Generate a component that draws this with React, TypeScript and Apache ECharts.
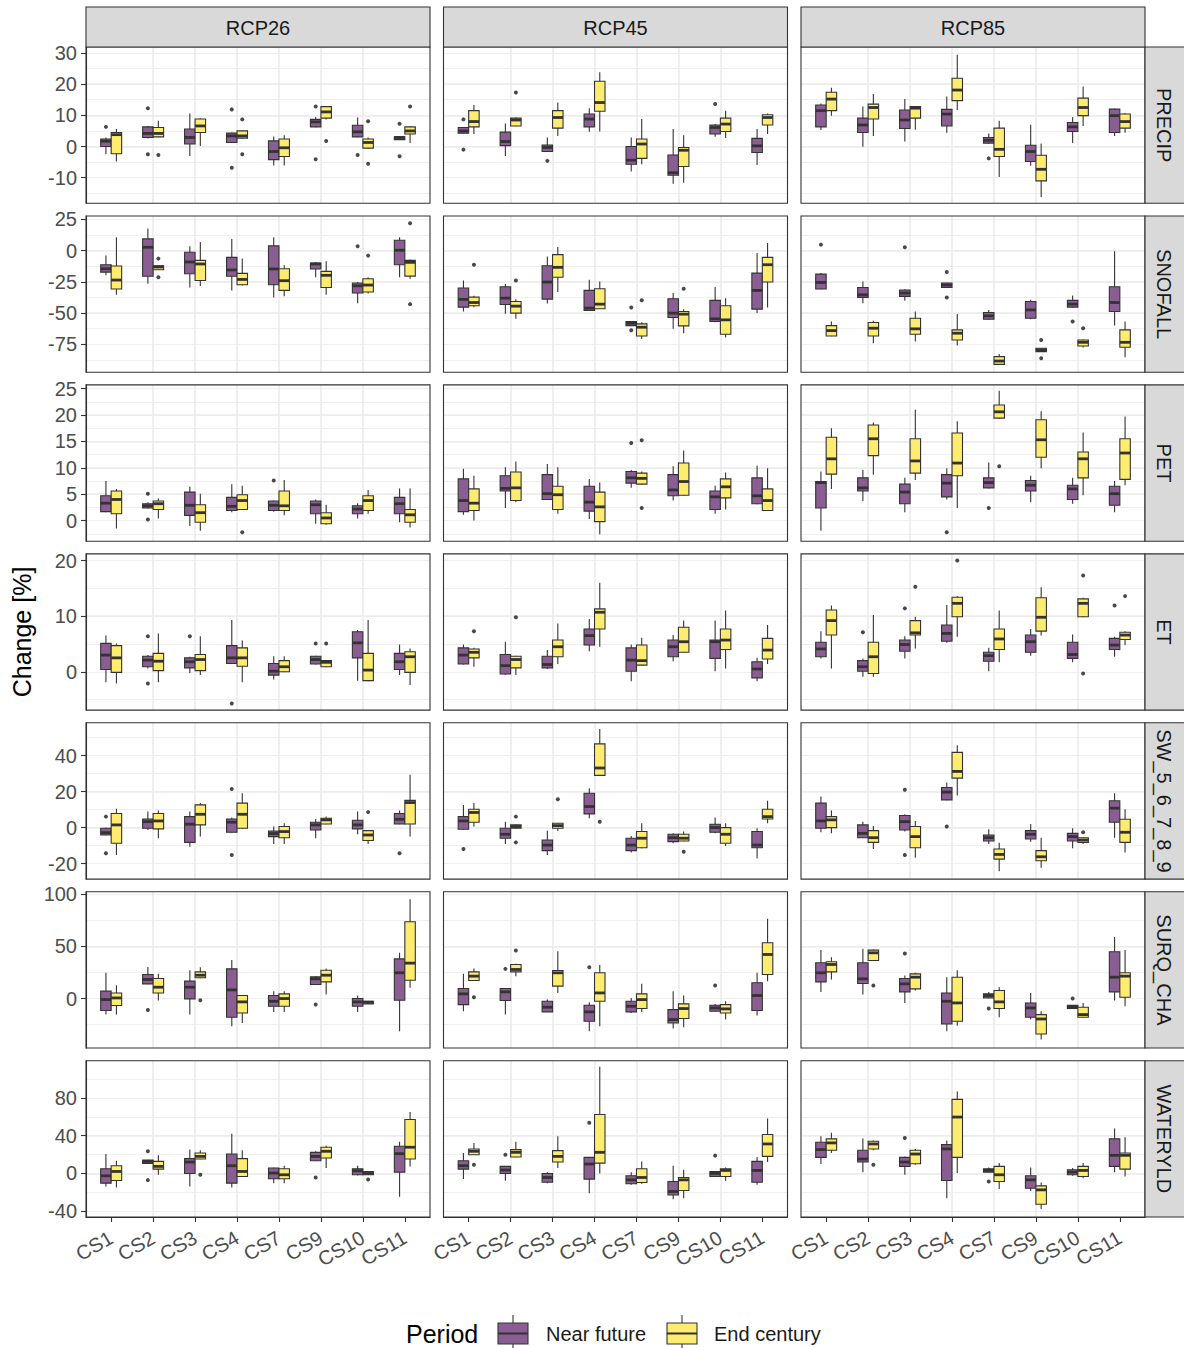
import React, { useEffect, useRef } from "react";
import * as echarts from "echarts";

// ---------- categories ----------
const scenarios = ["RCP26", "RCP45", "RCP85"];
const variables = ["PRECIP", "SNOFALL", "PET", "ET", "SW_5_6_7_8_9", "SURQ_CHA", "WATERYLD"];
const sites = ["CS1", "CS2", "CS3", "CS4", "CS7", "CS9", "CS10", "CS11"];
const periods = ["Near future", "End century"];
const periodColors = ["#8B5E93", "#FDEC6F"];

// ---------- y scales per variable row ----------
const yMin = [-18.2, -97.5, -3.9, -6.9, -28.6, -47.5, -46.2];
const yMax = [31.9, 27.8, 25.7, 21.2, 58.2, 102.5, 119.6];
const majorStep = [10, 25, 5, 10, 20, 50, 40];
const majorBreaks = [
  [-10, 0, 10, 20, 30],
  [-75, -50, -25, 0, 25],
  [0, 5, 10, 15, 20, 25],
  [0, 10, 20],
  [-20, 0, 20, 40],
  [0, 50, 100],
  [-40, 0, 40, 80],
];

// ---------- box statistics: [lower whisker, Q1, median, Q3, upper whisker] per site ----------
// PRECIP
const PRECIP_RCP26_NF = [[-2.5, 0, 1.7, 2.4, 2.9], [2.6, 2.9, 4.2, 6.3, 6.6], [-3.0, 0.8, 2.9, 5.6, 10.6], [1.2, 1.3, 3.4, 4.3, 4.5], [-6.1, -4.2, -1.6, 1.8, 3.2], [6.2, 6.3, 7.9, 8.7, 9.5], [3.0, 3.1, 4.7, 6.8, 9.3], [2.1, 2.2, 2.9, 3.1, 3.2]];
const PRECIP_RCP26_EC = [[-4.8, -2.3, 3.8, 4.5, 5.6], [3.0, 3.1, 4.2, 6.1, 8.3], [0.2, 4.5, 6.6, 8.8, 9.1], [2.6, 2.7, 3.4, 5.0, 5.1], [-6.1, -3.2, -0.4, 2.4, 3.6], [8.7, 9.1, 11.1, 12.8, 13.0], [-0.6, -0.5, 1.3, 2.4, 2.9], [1.1, 4.0, 5.0, 6.3, 6.4]];
const PRECIP_RCP45_NF = [[4.2, 4.3, 5.0, 6.1, 6.2], [-3.0, 0.3, 1.6, 4.6, 7.4], [-1.7, -1.6, -0.3, 0.5, 2.9], [4.7, 6.3, 8.8, 10.4, 12.3], [-8.0, -5.7, -4.4, 0.0, 2.9], [-11.9, -9.2, -8.4, -2.7, 5.6], [3.1, 4.0, 6.1, 6.9, 7.2], [-5.9, -1.9, 0.2, 2.6, 5.6]];
const PRECIP_RCP45_EC = [[4.0, 6.3, 8.0, 11.5, 13.3], [6.5, 6.6, 8.5, 9.1, 9.3], [3.4, 5.9, 9.3, 11.5, 14.1], [4.8, 11.3, 14.1, 20.9, 23.8], [-5.7, -3.8, 0.8, 2.4, 8.8], [-11.6, -6.4, -1.2, -0.3, 3.6], [2.7, 4.8, 7.2, 9.1, 11.5], [4.0, 6.9, 9.3, 10.2, 10.6]];
const PRECIP_RCP85_NF = [[5.3, 6.3, 11.5, 13.3, 13.8], [-0.1, 4.5, 6.9, 9.1, 12.8], [1.6, 5.8, 8.5, 11.7, 15.2], [4.4, 6.6, 10.4, 11.9, 16.0], [1.0, 1.1, 2.0, 2.9, 4.2], [-6.2, -4.8, -1.6, 0.4, 7.0], [1.1, 4.8, 6.3, 7.7, 9.5], [3.4, 4.5, 9.9, 12.0, 12.2]];
const PRECIP_RCP85_EC = [[9.9, 11.5, 15.2, 17.4, 18.8], [3.4, 8.8, 12.5, 13.6, 16.8], [5.4, 9.1, 12.3, 12.8, 12.9], [11.7, 14.7, 18.1, 21.9, 29.4], [-9.8, -3.2, -0.9, 5.9, 8.3], [-16.2, -11.0, -7.3, -2.8, 1.0], [6.6, 9.9, 12.5, 15.5, 19.2], [4.4, 5.9, 8.0, 10.4, 10.7]];
// SNOFALL
const SNOFALL_RCP26_NF = [[-19.8, -17.2, -14.5, -11.3, -4.0], [-26.5, -20.6, 2.7, 9.4, 17.7], [-29.5, -18.5, -9.1, -1.3, 3.5], [-31.9, -20.6, -15.5, -5.4, 9.4], [-37.5, -27.3, -14.7, 3.8, 10.7], [-21.4, -14.7, -10.7, -9.9, -9.1], [-42.1, -34.0, -28.2, -26.0, -25.2], [-21.4, -11.3, 0.3, 8.3, 10.7]];
const SNOFALL_RCP26_EC = [[-35.4, -30.8, -23.6, -12.3, 10.7], [-15.6, -15.3, -13.1, -12.1, -11.8], [-28.4, -23.9, -10.7, -7.8, 7.0], [-27.9, -27.3, -23.1, -18.2, -6.4], [-36.5, -31.9, -24.1, -14.5, -11.8], [-35.4, -29.5, -19.8, -16.6, -8.6], [-34.3, -33.2, -27.6, -22.5, -21.4], [-22.5, -20.4, -9.4, -7.8, -7.2]];
const SNOFALL_RCP45_NF = [[-48.8, -45.3, -39.1, -30.0, -23.9], [-50.7, -43.2, -38.1, -29.0, -26.8], [-42.4, -38.9, -25.2, -12.1, -4.8], [-48.2, -48.0, -46.1, -31.9, -23.3], [-60.5, -60.1, -58.2, -56.8, -56.5], [-62.7, -53.6, -50.1, -38.6, -34.0], [-57.4, -56.8, -54.7, -39.9, -29.2], [-50.1, -46.9, -31.9, -18.0, -1.9]];
const SNOFALL_RCP45_EC = [[-45.3, -44.2, -41.6, -37.3, -36.2], [-54.7, -50.1, -44.5, -40.8, -39.0], [-33.2, -21.4, -13.4, -3.2, 2.9], [-46.8, -46.6, -42.9, -30.6, -24.7], [-70.8, -68.4, -61.4, -58.7, -57.5], [-66.2, -60.3, -50.9, -48.8, -46.9], [-69.7, -67.0, -55.5, -44.2, -38.1], [-45.6, -25.2, -11.3, -5.4, 6.2]];
const SNOFALL_RCP85_NF = [[-31.0, -30.8, -25.5, -18.8, -18.0], [-42.1, -37.5, -35.4, -29.5, -24.7], [-40.2, -36.7, -34.0, -31.6, -31.0], [-29.8, -29.5, -27.6, -26.0, -25.7], [-55.2, -55.0, -52.3, -49.6, -47.5], [-55.0, -54.2, -47.5, -40.8, -39.4], [-45.5, -45.3, -42.9, -39.9, -35.9], [-60.1, -48.8, -41.6, -29.0, -0.5]];
const SNOFALL_RCP85_EC = [[-68.6, -68.4, -64.1, -60.1, -56.8], [-74.3, -68.4, -62.2, -57.6, -56.3], [-72.9, -67.0, -62.7, -54.2, -48.8], [-76.1, -71.6, -66.2, -63.5, -50.9], [-91.4, -91.2, -88.5, -85.0, -82.8], [-81.2, -81.0, -79.6, -78.3, -78.0], [-77.7, -76.4, -73.5, -71.6, -71.3], [-85.5, -77.5, -73.5, -63.5, -56.8]];
// PET
const PET_RCP26_NF = [[1.6, 1.7, 3.3, 4.7, 7.5], [2.3, 2.4, 2.8, 3.2, 3.5], [-1.0, 1.0, 2.9, 5.4, 6.4], [1.6, 1.9, 2.7, 4.4, 6.9], [1.7, 1.9, 2.9, 3.7, 3.8], [-0.6, 1.3, 3.0, 3.7, 4.0], [0.4, 1.3, 2.2, 2.8, 3.3], [-0.3, 1.3, 3.2, 4.4, 6.1]];
const PET_RCP26_EC = [[-1.5, 1.3, 4.0, 5.6, 6.0], [0.4, 2.1, 3.2, 3.7, 4.2], [-1.9, -0.3, 1.5, 3.0, 5.1], [2.0, 2.1, 3.8, 4.9, 6.6], [1.0, 1.9, 2.8, 5.6, 7.7], [-0.8, -0.6, 0.5, 1.5, 3.0], [1.3, 1.9, 3.8, 4.7, 5.8], [-1.3, -0.3, 1.1, 2.1, 6.1]];
const PET_RCP45_NF = [[1.1, 1.7, 3.8, 7.9, 9.8], [2.4, 5.6, 6.1, 8.5, 10.1], [3.9, 4.0, 5.1, 8.7, 10.7], [0.3, 1.8, 3.5, 6.5, 7.9], [6.2, 7.1, 8.1, 9.3, 9.6], [3.8, 4.7, 5.8, 8.7, 10.3], [1.3, 2.1, 4.5, 5.6, 6.6], [3.1, 3.2, 4.7, 8.1, 10.4]];
const PET_RCP45_EC = [[0.0, 1.9, 3.3, 6.0, 8.5], [3.5, 3.8, 6.2, 9.2, 11.2], [1.3, 2.1, 4.9, 6.5, 10.1], [-2.6, -0.2, 2.6, 5.4, 7.2], [6.8, 6.9, 8.0, 9.0, 9.3], [4.7, 4.8, 7.4, 10.9, 13.3], [2.1, 4.3, 6.4, 7.9, 9.1], [1.8, 1.9, 3.8, 6.0, 9.9]];
const PET_RCP85_NF = [[-1.9, 2.4, 7.2, 7.4, 9.3], [3.7, 5.6, 6.2, 8.1, 9.6], [1.6, 3.2, 5.4, 6.9, 8.1], [4.0, 4.5, 7.1, 8.7, 9.9], [6.1, 6.2, 7.2, 8.1, 11.0], [3.5, 5.6, 6.7, 7.6, 8.5], [3.2, 4.0, 6.0, 6.7, 8.1], [1.6, 2.9, 5.1, 6.5, 7.5]];
const PET_RCP85_EC = [[6.0, 8.8, 11.7, 15.8, 17.5], [8.7, 12.3, 15.5, 18.1, 18.6], [7.7, 9.0, 11.3, 15.5, 21.0], [2.4, 8.5, 10.9, 16.6, 18.8], [19.3, 19.4, 20.6, 21.9, 24.6], [9.9, 12.0, 15.3, 19.1, 20.7], [4.8, 8.1, 11.7, 13.0, 16.7], [6.7, 7.8, 12.8, 15.5, 19.7]];
// ET
const ET_RCP26_NF = [[-1.9, 0.4, 3.0, 5.1, 6.5], [0.6, 0.9, 2.1, 2.8, 3.0], [-0.2, 0.7, 1.8, 2.5, 2.7], [1.4, 1.5, 2.5, 4.7, 9.3], [-1.4, -0.6, 0.1, 1.5, 2.8], [1.3, 1.4, 2.2, 2.8, 2.9], [-1.6, 2.5, 5.2, 7.2, 7.5], [-0.6, 0.4, 1.8, 3.3, 4.9]];
const ET_RCP26_EC = [[-2.1, -0.1, 2.5, 4.7, 5.1], [-1.9, 0.2, 1.9, 3.3, 6.9], [-0.6, 0.2, 2.2, 3.1, 6.4], [-1.9, 1.0, 2.5, 4.3, 5.6], [-0.1, 0.0, 0.9, 2.0, 2.8], [0.8, 0.9, 1.7, 2.0, 2.1], [-1.7, -1.6, 0.3, 3.3, 9.3], [-2.4, -0.1, 2.7, 3.6, 4.2]];
const ET_RCP45_NF = [[1.3, 1.4, 3.0, 4.3, 4.9], [-0.6, -0.4, 1.1, 3.1, 5.4], [0.5, 0.7, 1.3, 2.8, 3.9], [3.7, 4.8, 6.5, 7.7, 9.5], [-1.7, 0.1, 2.1, 4.3, 4.9], [1.9, 2.7, 4.5, 5.7, 6.6], [0.1, 2.4, 5.4, 5.7, 9.2], [-1.7, -1.1, 0.5, 1.8, 2.5]];
const ET_RCP45_EC = [[0.9, 2.5, 3.5, 4.1, 4.3], [-0.6, 0.7, 2.2, 2.8, 2.9], [1.4, 2.7, 4.5, 5.7, 8.7], [4.5, 7.7, 10.7, 11.3, 16.0], [1.1, 1.2, 2.0, 4.8, 6.1], [3.4, 3.5, 5.4, 8.0, 9.2], [0.6, 4.0, 5.7, 7.7, 11.0], [1.4, 2.3, 3.9, 6.0, 8.4]];
const ET_RCP85_NF = [[2.4, 2.7, 4.1, 5.3, 7.3], [-0.9, 0.1, 0.9, 2.0, 2.4], [2.4, 3.7, 4.9, 5.7, 6.4], [5.2, 5.5, 6.9, 8.4, 12.0], [0.1, 1.9, 2.9, 3.5, 4.3], [2.9, 3.5, 5.4, 6.6, 7.7], [1.7, 2.4, 3.1, 5.3, 6.7], [2.7, 4.0, 4.8, 6.0, 6.3]];
const ET_RCP85_EC = [[0.6, 6.6, 9.2, 11.1, 11.9], [-0.9, -0.3, 2.7, 5.3, 10.2], [4.2, 6.6, 7.0, 9.2, 9.9], [6.3, 9.9, 12.3, 13.4, 13.6], [1.7, 4.0, 5.9, 7.7, 11.0], [6.5, 7.3, 9.8, 13.3, 15.2], [9.8, 9.9, 12.3, 13.1, 13.3], [4.8, 5.8, 6.6, 7.1, 7.3]];
// SW_5_6_7_8_9
const SW_RCP26_NF = [[-4.3, -4.1, -2.8, -0.4, 0.0], [-1.3, -0.4, 3.3, 4.8, 8.9], [-10.6, -8.2, 1.9, 6.1, 8.9], [-2.8, -2.6, 3.0, 4.8, 5.6], [-9.1, -5.0, -3.3, -1.9, 0.6], [-5.9, -1.3, 1.5, 3.0, 4.8], [-3.7, -0.7, 1.5, 4.1, 8.9], [1.8, 2.0, 4.6, 7.8, 9.5]];
const SW_RCP26_EC = [[-15.2, -8.7, 1.5, 7.8, 10.4], [-5.9, -0.7, 3.7, 7.8, 9.5], [-5.0, 1.5, 7.4, 12.6, 13.6], [-0.6, -0.4, 7.4, 13.6, 19.1], [-9.1, -5.6, -2.2, 0.6, 2.4], [1.8, 2.0, 4.3, 5.2, 6.1], [-9.1, -7.2, -4.1, -1.7, -1.5], [-5.0, 2.0, 13.9, 15.1, 29.4]];
const SW_RCP45_NF = [[-1.1, -0.9, 3.7, 6.1, 12.6], [-9.1, -5.9, -3.7, -0.4, 3.3], [-15.2, -12.8, -9.7, -6.9, -1.7], [5.2, 7.6, 11.7, 19.1, 21.9], [-13.8, -12.8, -9.7, -5.9, -4.6], [-8.7, -7.8, -5.6, -3.7, -3.2], [-3.2, -2.6, 0.0, 1.9, 5.6], [-17.1, -11.2, -9.7, -2.2, -0.4]];
const SW_RCP45_EC = [[0.6, 3.0, 8.4, 10.2, 13.6], [-0.6, -0.4, 0.6, 1.5, 1.7], [-1.9, -0.4, 1.1, 2.4, 2.6], [28.8, 29.0, 33.1, 46.5, 54.8], [-11.5, -11.2, -5.9, -2.2, 2.4], [-7.6, -7.4, -5.9, -3.7, -2.2], [-10.2, -8.7, -3.7, 0.0, 2.4], [2.4, 4.8, 6.1, 10.2, 14.9]];
const SW_RCP85_NF = [[-2.6, -0.4, 3.7, 13.6, 17.3], [-5.8, -5.6, -3.2, 1.5, 3.3], [-2.2, -1.3, 3.3, 6.7, 7.4], [15.2, 15.4, 19.7, 22.3, 25.1], [-9.1, -7.4, -5.6, -4.1, -0.9], [-7.8, -6.3, -3.7, -1.7, 2.0], [-11.5, -7.4, -5.0, -3.2, -0.4], [-5.6, 3.0, 10.8, 14.9, 19.1]];
const SW_RCP85_EC = [[-3.2, 0.0, 4.3, 6.1, 9.5], [-11.9, -8.2, -5.6, -1.7, 0.9], [-16.7, -11.2, -5.0, 0.6, 3.7], [17.8, 27.5, 31.2, 41.8, 45.7], [-24.2, -17.5, -14.9, -11.9, -8.4], [-22.3, -18.4, -16.2, -12.8, -5.6], [-9.1, -8.2, -6.9, -5.6, -5.4], [-13.8, -8.2, -2.6, 4.6, 10.2]];
// SURQ_CHA
const SURQ_RCP26_NF = [[-15.4, -11.5, -1.0, 7.1, 24.7], [13.8, 14.1, 18.3, 23.1, 30.4], [-15.4, -0.3, 10.9, 16.7, 27.2], [-26.6, -17.9, 8.3, 28.5, 36.9], [-12.8, -7.4, -2.6, 2.9, 7.1], [13.3, 13.5, 18.9, 20.8, 21.5], [-12.8, -7.4, -3.2, 0.0, 2.9], [-31.4, -1.6, 24.7, 38.1, 43.9]];
const SURQ_RCP26_EC = [[-15.4, -6.7, 0.6, 5.4, 12.8], [-1.9, 5.4, 10.9, 19.2, 23.7], [19.6, 19.9, 22.4, 25.6, 30.1], [-23.4, -13.8, -3.2, 2.9, 3.1], [-12.8, -7.4, 0.0, 4.5, 7.1], [3.8, 16.0, 22.4, 27.2, 28.8], [-5.3, -5.1, -3.5, -2.6, -2.4], [10.3, 17.6, 34.0, 73.7, 95.2]];
const SURQ_RCP45_NF = [[-12.2, -5.8, 4.5, 9.6, 23.7], [-15.4, -1.9, 6.4, 9.6, 9.9], [-13.0, -12.8, -8.3, -2.6, -1.0], [-31.4, -21.8, -12.8, -6.4, -3.5], [-13.8, -12.8, -7.4, -2.6, 0.6], [-28.8, -23.4, -20.2, -10.6, 7.1], [-12.4, -12.2, -9.0, -6.4, -5.2], [-16.3, -11.5, 2.9, 15.1, 24.7]];
const SURQ_RCP45_EC = [[17.0, 17.3, 21.5, 25.6, 28.8], [21.5, 25.6, 27.9, 32.7, 33.3], [5.4, 11.9, 24.7, 26.9, 45.5], [-26.6, -2.6, 5.4, 24.7, 32.1], [-12.8, -9.6, -1.0, 4.5, 14.1], [-27.6, -19.2, -9.6, -5.1, 2.9], [-20.2, -13.8, -9.9, -5.8, -2.6], [16.7, 23.1, 42.3, 53.5, 76.6]];
const SURQ_RCP85_NF = [[6.4, 16.0, 24.7, 34.3, 46.5], [3.8, 14.4, 18.9, 34.3, 47.8], [-4.2, 6.4, 14.1, 19.2, 22.1], [-31.4, -24.4, -2.6, 5.4, 20.5], [0.4, 0.6, 2.9, 4.5, 6.4], [-20.2, -17.9, -9.0, -4.2, 5.4], [-9.8, -9.6, -7.7, -6.4, -6.2], [-1.9, 6.4, 20.5, 44.9, 59.0]];
const SURQ_RCP85_EC = [[18.3, 25.6, 32.7, 35.3, 39.7], [36.3, 36.5, 43.9, 46.5, 47.1], [7.7, 9.3, 20.5, 23.7, 24.7], [-26.0, -21.8, -4.2, 20.5, 27.2], [-17.9, -9.6, -3.2, 7.7, 10.9], [-39.4, -34.0, -19.6, -15.4, -12.2], [-18.1, -17.9, -15.4, -8.3, -4.2], [-7.4, 1.3, 21.5, 24.7, 46.5]];
// WATERYLD
const WYLD_RCP26_NF = [[-13.9, -10.3, -2.5, 5.0, 20.6], [10.5, 10.7, 12.8, 14.2, 14.4], [-13.9, 0.0, 12.1, 15.7, 25.3], [-14.9, -10.3, 8.2, 20.6, 42.0], [-10.3, -5.7, 0.4, 5.7, 6.4], [13.3, 13.5, 18.1, 22.4, 23.5], [-2.1, -1.4, 2.8, 5.0, 8.2], [-24.6, 1.4, 21.0, 28.8, 33.5]];
const WYLD_RCP26_EC = [[-14.9, -7.5, 2.1, 8.2, 13.5], [-1.4, 4.6, 7.5, 12.8, 19.2], [15.1, 15.3, 18.1, 21.7, 24.6], [-3.4, -3.2, 2.1, 15.7, 24.6], [-10.3, -5.7, -1.4, 5.0, 8.2], [5.7, 16.4, 23.5, 27.8, 29.5], [-1.6, -1.4, 0.0, 2.1, 2.3], [7.5, 15.3, 27.8, 57.3, 65.1]];
const WYLD_RCP45_NF = [[-6.0, 4.6, 8.2, 13.5, 21.7], [-7.8, 0.0, 3.6, 7.5, 7.7], [-10.3, -9.3, -4.3, 0.0, 1.4], [-21.0, -6.0, 10.0, 17.1, 17.3], [-12.1, -11.0, -6.8, -2.5, 1.4], [-27.4, -22.8, -19.2, -8.5, 8.2], [-3.4, -3.2, 0.0, 2.1, 2.3], [-12.1, -9.3, 3.2, 12.8, 17.4]];
const WYLD_RCP45_EC = [[19.7, 19.9, 23.5, 26.0, 32.4], [17.1, 17.4, 22.4, 25.3, 33.5], [5.7, 12.1, 18.1, 24.2, 39.5], [0.0, 11.0, 22.4, 62.6, 113.2], [-11.0, -9.6, -4.3, 5.0, 12.8], [-26.3, -18.1, -6.8, -4.3, 3.9], [-7.8, -3.2, 3.2, 5.0, 6.4], [12.1, 18.1, 31.3, 41.3, 58.4]];
const WYLD_RCP85_NF = [[10.0, 17.1, 25.3, 33.1, 39.5], [1.4, 12.1, 15.3, 24.6, 37.0], [-1.4, 7.5, 12.1, 17.1, 18.1], [-26.3, -7.5, 26.0, 30.6, 34.9], [1.2, 1.4, 3.2, 5.0, 6.4], [-18.5, -15.7, -6.8, -2.5, 6.4], [-2.5, -1.4, 1.4, 3.9, 5.7], [1.4, 7.5, 19.2, 36.7, 47.7]];
const WYLD_RCP85_EC = [[21.7, 24.6, 32.4, 36.7, 43.1], [24.6, 26.0, 31.3, 34.2, 34.9], [9.3, 10.3, 20.6, 24.6, 26.0], [0.4, 17.1, 59.8, 78.6, 86.8], [-16.4, -8.5, -1.4, 7.5, 11.0], [-37.7, -32.7, -17.4, -13.2, -9.6], [-5.0, -3.2, 3.2, 7.5, 11.0], [-3.2, 4.6, 19.2, 21.7, 38.4]];

// ---------- outliers: [site index, period index, value] ----------
const PRECIP_RCP26_OUT = [[0, 0, 6.3], [1, 0, 12.3], [1, 0, -2.5], [3, 0, 11.9], [3, 0, -6.8], [5, 0, 12.8], [5, 0, -4.1], [6, 0, -2.7], [7, 0, 7.3], [7, 0, -3.1], [1, 1, -2.7], [3, 1, 8.7], [3, 1, -2.5], [5, 1, 1.8], [6, 1, 8.1], [6, 1, -5.5], [7, 1, 12.8]];
const PRECIP_RCP45_OUT = [[0, 0, 8.7], [0, 0, -1.0], [2, 0, -4.6], [6, 0, 13.6], [1, 1, 17.3]];
const PRECIP_RCP85_OUT = [[4, 0, -3.8]];
const SNOFALL_RCP26_OUT = [[6, 0, 3.5], [1, 1, -6.4], [1, 1, -21.4], [6, 1, -4.0], [7, 1, 22.0], [7, 1, -42.9]];
const SNOFALL_RCP45_OUT = [[4, 0, -45.6], [4, 0, -63.8], [0, 1, -11.3], [1, 1, -23.9], [4, 1, -39.7], [5, 1, -30.6]];
const SNOFALL_RCP85_OUT = [[0, 0, 4.8], [2, 0, 2.7], [3, 0, -17.2], [3, 0, -37.5], [6, 0, -56.8], [5, 1, -71.6], [5, 1, -86.3], [6, 1, -62.2]];
const PET_RCP26_OUT = [[1, 0, 5.1], [1, 0, 0.2], [4, 0, 7.6], [3, 1, -2.2]];
const PET_RCP45_OUT = [[4, 0, 14.7], [4, 1, 15.2], [4, 1, 2.4]];
const PET_RCP85_OUT = [[3, 0, -2.2], [4, 0, 2.4], [4, 1, 10.3]];
const ET_RCP26_OUT = [[1, 0, 6.4], [1, 0, -2.1], [2, 0, 6.4], [3, 0, -5.7], [5, 0, 5.1], [5, 1, 5.1]];
const ET_RCP45_OUT = [[0, 1, 7.3], [1, 1, 9.8]];
const ET_RCP85_OUT = [[1, 0, 7.1], [2, 0, 11.4], [7, 0, 11.9], [2, 1, 15.3], [3, 1, 20.0], [6, 1, 17.3], [6, 1, -0.3], [7, 1, 13.6]];
const SW_RCP26_OUT = [[0, 0, 6.1], [0, 0, -14.3], [3, 0, 21.4], [3, 0, -15.2], [7, 0, -14.3], [6, 1, 8.6]];
const SW_RCP45_OUT = [[0, 0, -11.9], [1, 1, 6.1], [1, 1, -8.2], [2, 1, 15.8], [3, 1, 3.3], [5, 1, -13.4]];
const SW_RCP85_OUT = [[2, 0, 21.0], [2, 0, -15.2], [3, 0, 0.6], [6, 1, -2.6]];
const SURQ_RCP26_OUT = [[1, 0, -10.9], [5, 0, -5.8], [2, 1, -1.6]];
const SURQ_RCP45_OUT = [[1, 0, 28.5], [3, 0, 30.1], [6, 0, 12.5], [0, 1, 1.3], [1, 1, 46.2]];
const SURQ_RCP85_OUT = [[2, 0, 43.3], [4, 0, -9.6], [6, 0, 0.0], [1, 1, 12.5]];
const WYLD_RCP26_OUT = [[1, 0, 23.5], [1, 0, -7.1], [5, 0, -4.3], [2, 1, -1.4], [6, 1, -6.4]];
const WYLD_RCP45_OUT = [[1, 0, 19.9], [3, 0, 53.7], [6, 0, 18.9], [0, 1, 9.3]];
const WYLD_RCP85_OUT = [[2, 0, 37.7], [4, 0, -8.5], [1, 1, 9.3]];

// table indexed [variable][scenario] -> [near future boxes, end century boxes, outliers]
const table = [
  [[PRECIP_RCP26_NF, PRECIP_RCP26_EC, PRECIP_RCP26_OUT], [PRECIP_RCP45_NF, PRECIP_RCP45_EC, PRECIP_RCP45_OUT], [PRECIP_RCP85_NF, PRECIP_RCP85_EC, PRECIP_RCP85_OUT]],
  [[SNOFALL_RCP26_NF, SNOFALL_RCP26_EC, SNOFALL_RCP26_OUT], [SNOFALL_RCP45_NF, SNOFALL_RCP45_EC, SNOFALL_RCP45_OUT], [SNOFALL_RCP85_NF, SNOFALL_RCP85_EC, SNOFALL_RCP85_OUT]],
  [[PET_RCP26_NF, PET_RCP26_EC, PET_RCP26_OUT], [PET_RCP45_NF, PET_RCP45_EC, PET_RCP45_OUT], [PET_RCP85_NF, PET_RCP85_EC, PET_RCP85_OUT]],
  [[ET_RCP26_NF, ET_RCP26_EC, ET_RCP26_OUT], [ET_RCP45_NF, ET_RCP45_EC, ET_RCP45_OUT], [ET_RCP85_NF, ET_RCP85_EC, ET_RCP85_OUT]],
  [[SW_RCP26_NF, SW_RCP26_EC, SW_RCP26_OUT], [SW_RCP45_NF, SW_RCP45_EC, SW_RCP45_OUT], [SW_RCP85_NF, SW_RCP85_EC, SW_RCP85_OUT]],
  [[SURQ_RCP26_NF, SURQ_RCP26_EC, SURQ_RCP26_OUT], [SURQ_RCP45_NF, SURQ_RCP45_EC, SURQ_RCP45_OUT], [SURQ_RCP85_NF, SURQ_RCP85_EC, SURQ_RCP85_OUT]],
  [[WYLD_RCP26_NF, WYLD_RCP26_EC, WYLD_RCP26_OUT], [WYLD_RCP45_NF, WYLD_RCP45_EC, WYLD_RCP45_OUT], [WYLD_RCP85_NF, WYLD_RCP85_EC, WYLD_RCP85_OUT]],
];

// ---------- layout ----------
const W = 1184;
const H = 1348;
const FONT = "'Liberation Sans', Arial, Helvetica, sans-serif";
const colLeft = [86, 443.5, 801];
const panelW = 344;
const rowTop0 = 47;
const rowStep = 168.95;
const panelH = 156.3;
const BOX_W = 0.25; // box width in category units (dodged pair = 0.5)
const STROKE = "#333333";
const GRID_COL = "#EBEBEB";

function makeRender(fill: string) {
  return (_params: any, api: any) => {
    const x = api.value(0);
    const lo = api.coord([x, api.value(1)]);
    const q1 = api.coord([x, api.value(2)]);
    const md = api.coord([x, api.value(3)]);
    const q3 = api.coord([x, api.value(4)]);
    const hi = api.coord([x, api.value(5)]);
    const hw = api.size([BOX_W / 2, 0])[0];
    const cx = lo[0];
    return {
      type: "group",
      children: [
        { type: "line", shape: { x1: cx, y1: hi[1], x2: cx, y2: lo[1] }, style: { stroke: STROKE, lineWidth: 1.1 } },
        { type: "rect", shape: { x: cx - hw, y: q3[1], width: hw * 2, height: Math.max(q1[1] - q3[1], 0.5) }, style: { fill, stroke: STROKE, lineWidth: 1.1 } },
        { type: "line", shape: { x1: cx - hw, y1: md[1], x2: cx + hw, y2: md[1] }, style: { stroke: STROKE, lineWidth: 2.8 } },
      ],
    };
  };
}

function buildOption() {
  const grid: any[] = [];
  const xAxis: any[] = [];
  const yAxis: any[] = [];
  const series: any[] = [];
  const graphic: any[] = [];
  const siteTicks = sites.map((_, i) => i + 1);

  variables.forEach((vname, r) => {
    const top = rowTop0 + r * rowStep;
    scenarios.forEach((_sname, c) => {
      const gi = r * 3 + c;
      grid.push({ left: colLeft[c], top, width: panelW, height: panelH, show: false, containLabel: false });
      const bottom = r === variables.length - 1;
      xAxis.push({
        type: "value",
        gridIndex: gi,
        position: "bottom",
        min: 0.4,
        max: 8.6,
        splitNumber: 8,
        minInterval: 1,
        maxInterval: 1,
        axisLine: { show: bottom, onZero: false, lineStyle: { color: STROKE, width: 1.1 } },
        axisTick: { show: bottom, length: 5, lineStyle: { color: STROKE, width: 1.1 }, customValues: siteTicks },
        axisLabel: {
          show: bottom,
          customValues: siteTicks,
          formatter: (v: number) => sites[Math.round(v) - 1] ?? "",
          rotate: 30,
          margin: 19,
          color: "#4D4D4D",
          fontSize: 20,
          fontFamily: FONT,
        },
        splitLine: { show: true, showMinLine: false, showMaxLine: false, lineStyle: { color: GRID_COL, width: 1.6 } },
      });
      const first = c === 0;
      yAxis.push({
        type: "value",
        gridIndex: gi,
        position: "left",
        min: yMin[r],
        max: yMax[r],
        splitNumber: 5,
        minInterval: majorStep[r],
        maxInterval: majorStep[r],
        axisLine: { show: first, onZero: false, lineStyle: { color: STROKE, width: 1.1 } },
        axisTick: { show: first, length: 5, lineStyle: { color: STROKE, width: 1.1 }, customValues: majorBreaks[r] },
        axisLabel: {
          show: first,
          customValues: majorBreaks[r],
          color: "#4D4D4D",
          fontSize: 20,
          fontFamily: FONT,
          margin: 9,
        },
        splitLine: { show: true, showMinLine: false, showMaxLine: false, lineStyle: { color: GRID_COL, width: 1.6 } },
      });
      yAxis.push({
        type: "value",
        gridIndex: gi,
        position: "left",
        min: yMin[r],
        max: yMax[r],
        splitNumber: 10,
        minInterval: majorStep[r] / 2,
        maxInterval: majorStep[r] / 2,
        axisLine: { show: false },
        axisTick: { show: false },
        axisLabel: { show: false },
        splitLine: { show: true, showMinLine: false, showMaxLine: false, lineStyle: { color: GRID_COL, width: 0.8 } },
      });

      const [nf, ec, out] = table[r][c] as any;
      [nf, ec].forEach((boxes: number[][], p: number) => {
        const offset = p === 0 ? -BOX_W / 2 : BOX_W / 2;
        series.push({
          type: "custom",
          name: periods[p],
          xAxisIndex: gi,
          yAxisIndex: gi * 2,
          renderItem: makeRender(periodColors[p]),
          encode: { x: 0, y: [1, 2, 3, 4, 5] },
          data: boxes.map((b, si) => [si + 1 + offset, ...b]),
          z: 3,
        });
      });
      series.push({
        type: "scatter",
        xAxisIndex: gi,
        yAxisIndex: gi * 2,
        symbol: "circle",
        symbolSize: 4,
        itemStyle: { color: "#1A1A1A" },
        data: (out as number[][]).map(([si, p, v]) => [si + 1 + (p === 0 ? -BOX_W / 2 : BOX_W / 2), v]),
        z: 4,
      });

      // panel border
      graphic.push({
        type: "rect",
        z: 100,
        shape: { x: colLeft[c], y: top, width: panelW, height: panelH },
        style: { fill: "none", stroke: STROKE, lineWidth: 1.1 },
      });
    });

    // right strip
    graphic.push({
      type: "rect",
      z: 100,
      shape: { x: 1145, y: top, width: 42, height: panelH },
      style: { fill: "#D9D9D9", stroke: STROKE, lineWidth: 1.1 },
    });
    graphic.push({
      type: "text",
      z: 101,
      x: 1164,
      y: top + panelH / 2,
      rotation: -Math.PI / 2,
      style: { text: vname, fill: "#1A1A1A", font: `20px ${FONT}`, textAlign: "center", textVerticalAlign: "middle" },
    });
  });

  // top strips
  scenarios.forEach((sname, c) => {
    graphic.push({
      type: "rect",
      z: 100,
      shape: { x: colLeft[c], y: 7, width: panelW, height: 40 },
      style: { fill: "#D9D9D9", stroke: STROKE, lineWidth: 1.1 },
    });
    graphic.push({
      type: "text",
      z: 101,
      x: colLeft[c] + panelW / 2,
      y: 28,
      style: { text: sname, fill: "#1A1A1A", font: `20px ${FONT}`, textAlign: "center", textVerticalAlign: "middle" },
    });
  });

  // y axis title
  const panelsMid = (rowTop0 + (rowTop0 + 6 * rowStep + panelH)) / 2;
  graphic.push({
    type: "text",
    z: 101,
    x: 22,
    y: panelsMid,
    rotation: Math.PI / 2,
    style: { text: "Change [%]", fill: "#000000", font: `25px ${FONT}`, textAlign: "center", textVerticalAlign: "middle" },
  });

  // legend
  const legY = 1334;
  graphic.push({
    type: "text",
    z: 101,
    x: 406,
    y: legY,
    style: { text: "Period", fill: "#000000", font: `25px ${FONT}`, textAlign: "left", textVerticalAlign: "middle" },
  });
  const keyX = [498, 667];
  const labX = [546, 714];
  periods.forEach((pname, p) => {
    const kx = keyX[p];
    graphic.push({
      type: "group",
      z: 101,
      children: [
        { type: "line", shape: { x1: kx + 15, y1: legY - 19, x2: kx + 15, y2: legY + 19 }, style: { stroke: STROKE, lineWidth: 1.1 } },
        { type: "rect", shape: { x: kx, y: legY - 11, width: 30, height: 21 }, style: { fill: periodColors[p], stroke: STROKE, lineWidth: 1.1 } },
        { type: "line", shape: { x1: kx, y1: legY - 0.5, x2: kx + 30, y2: legY - 0.5 }, style: { stroke: STROKE, lineWidth: 2 } },
      ],
    });
    graphic.push({
      type: "text",
      z: 101,
      x: labX[p],
      y: legY,
      style: { text: pname, fill: "#1A1A1A", font: `20px ${FONT}`, textAlign: "left", textVerticalAlign: "middle" },
    });
  });

  return {
    animation: false,
    backgroundColor: "#FFFFFF",
    textStyle: { fontFamily: FONT },
    grid,
    xAxis,
    yAxis,
    series,
    graphic,
  };
}

export default function App() {
  const ref = useRef<HTMLDivElement>(null);
  useEffect(() => {
    if (!ref.current) return;
    const chart = echarts.init(ref.current, undefined, { renderer: "svg" });
    chart.setOption(buildOption() as any);
    return () => chart.dispose();
  }, []);
  return <div ref={ref} style={{ position: "absolute", left: 0, top: 0, width: W, height: H }} />;
}
